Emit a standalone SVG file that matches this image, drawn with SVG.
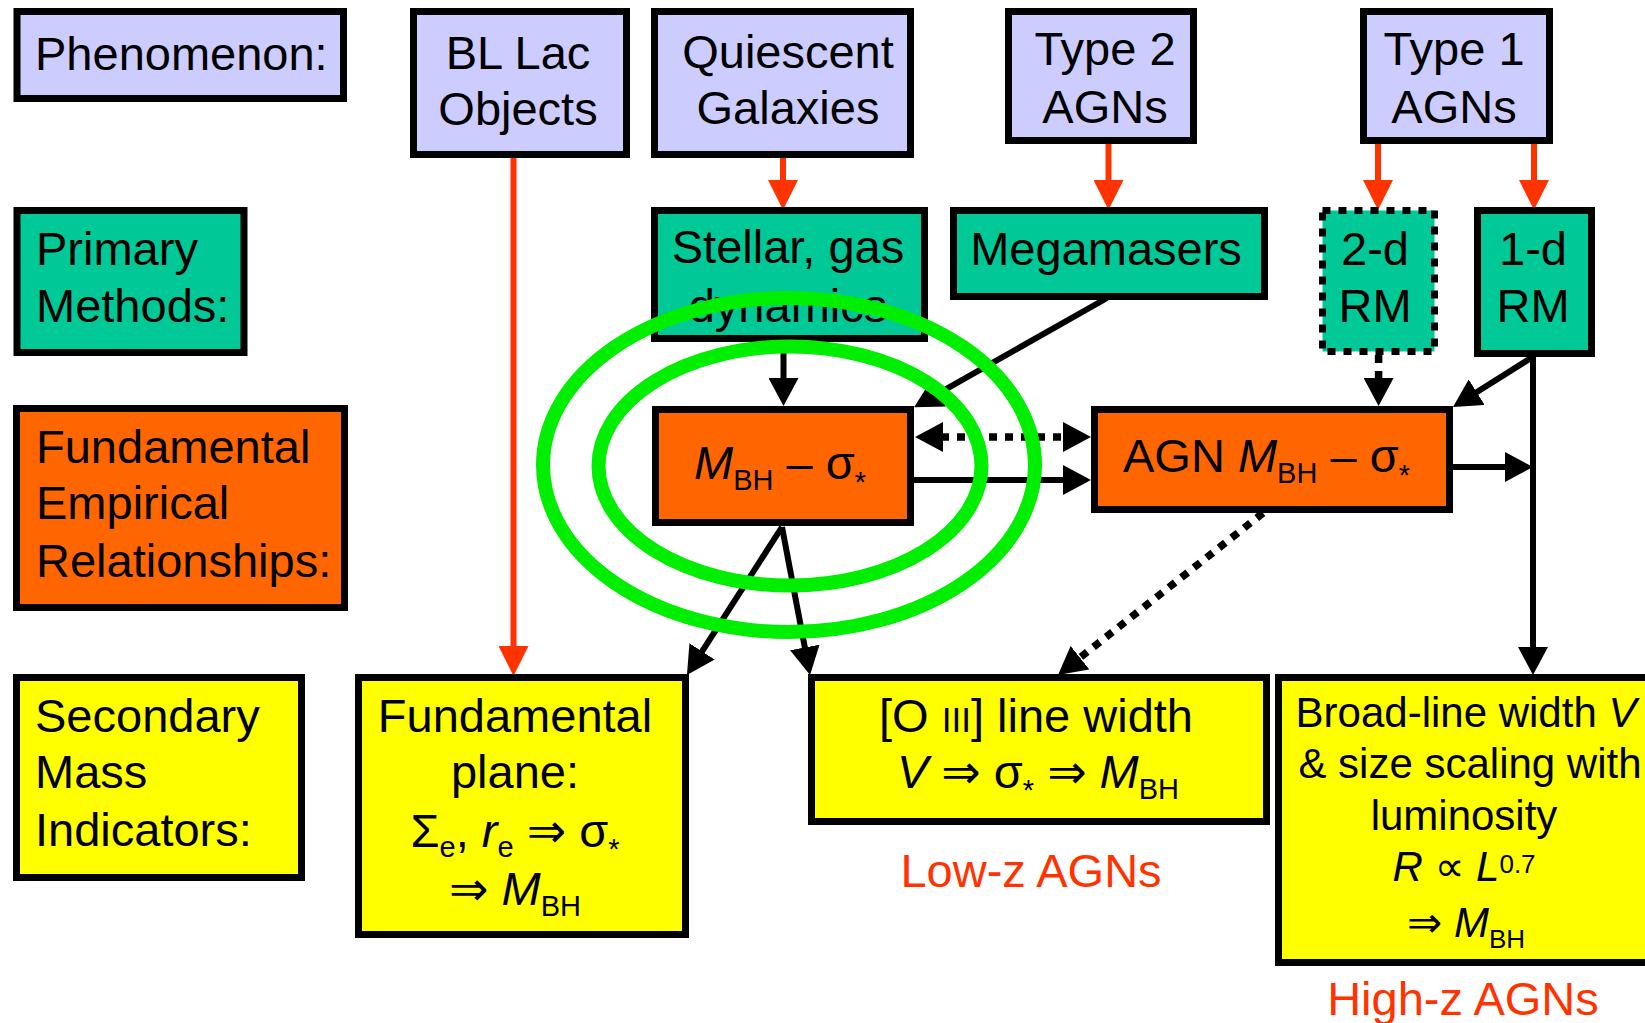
<svg xmlns="http://www.w3.org/2000/svg" width="1645" height="1023" viewBox="0 0 1645 1023">
<defs>
<style>
text{font-family:"Liberation Sans",Arial,"DejaVu Sans",sans-serif;font-size:47px;fill:#000}
.box{stroke:#000;stroke-width:7}
.ph{fill:#ccccff}.pm{fill:#00c896}.fe{fill:#ff6600}.sm{fill:#ffff00}
.dot{stroke-dasharray:8 8}
.m{text-anchor:middle}
.i{font-style:italic}
.sub{font-size:29px}
.bl{font-size:42px}
.bl .sub{font-size:26px}
.red{fill:#ff3300}
.ln{stroke:#000;stroke-width:6;fill:none;marker-end:url(#ba)}
.ln.dot{stroke-width:7.5}
.rl{stroke:#ff3300;stroke-width:6;fill:none;marker-end:url(#ra)}
.ell{fill:none;stroke:#00ee00;stroke-width:14}
</style>
<marker id="ra" markerUnits="userSpaceOnUse" markerWidth="30" markerHeight="30" refX="2" refY="15" orient="auto"><path d="M0,0 L30,15 L0,30 z" fill="#ff3300"/></marker>
<marker id="ba" markerUnits="userSpaceOnUse" markerWidth="28" markerHeight="30" refX="2" refY="15" orient="auto"><path d="M0,0 L28,15 L0,30 z" fill="#000"/></marker>
<marker id="bs" markerUnits="userSpaceOnUse" markerWidth="28" markerHeight="30" refX="2" refY="15" orient="auto-start-reverse"><path d="M0,0 L28,15 L0,30 z" fill="#000"/></marker>
</defs>
<rect width="1645" height="1023" fill="#fff"/>

<g id="connectors">
<line class="rl" x1="513.5" y1="155" x2="513.5" y2="648"/>
<line class="rl" x1="783" y1="156" x2="783" y2="182"/>
<line class="rl" x1="1108.5" y1="142" x2="1108.5" y2="182"/>
<line class="rl" x1="1378" y1="142" x2="1378" y2="182"/>
<line class="rl" x1="1534" y1="142" x2="1534" y2="182"/>
<line class="ln" x1="783.5" y1="342" x2="783.5" y2="380"/>
<line class="ln" x1="1107" y1="298" x2="936.7" y2="394.4"/>
<line class="ln dot" x1="1378.6" y1="355" x2="1378.6" y2="380"/>
<line class="ln" x1="1531" y1="358" x2="1475" y2="393.2"/>
<line class="ln dot" style="marker-start:url(#bs)" x1="941" y1="437" x2="1065" y2="437"/>
<line class="ln" x1="914" y1="480" x2="1065" y2="480"/>
<line class="ln" x1="1453" y1="467" x2="1507" y2="467"/>
<line class="ln" x1="1533" y1="357" x2="1533" y2="649"/>
<line class="ln" x1="782" y1="527" x2="701" y2="653.1"/>
<line class="ln" x1="782" y1="527" x2="805.2" y2="649.4"/>
<line class="ln dot" x1="1263" y1="513" x2="1078.4" y2="658.9"/>
</g>

<g id="phenomenon"><rect class="box ph" x="17" y="11.5" width="326.5" height="87"/><text x="35" y="70">Phenomenon:</text></g>
<g id="bllac"><rect class="box ph" x="413.5" y="11.5" width="213" height="143"/><text class="m" x="518" y="69">BL Lac</text><text class="m" x="518" y="125">Objects</text></g>
<g id="quiescent"><rect class="box ph" x="654.5" y="11.5" width="256" height="143"/><text class="m" x="788" y="68">Quiescent</text><text class="m" x="788" y="124">Galaxies</text></g>
<g id="type2"><rect class="box ph" x="1008.5" y="11.5" width="185" height="129"/><text class="m" x="1105" y="65">Type 2</text><text class="m" x="1105" y="123">AGNs</text></g>
<g id="type1"><rect class="box ph" x="1363.5" y="11.5" width="186" height="129"/><text class="m" x="1454" y="65">Type 1</text><text class="m" x="1454" y="123">AGNs</text></g>

<g id="primary"><rect class="box pm" x="17" y="210.5" width="227" height="142"/><text x="36" y="265">Primary</text><text x="36" y="322">Methods:</text></g>
<g id="stellar"><rect class="box pm" x="654.5" y="210.5" width="270" height="128"/><text class="m" x="788" y="263">Stellar, gas</text><text class="m" x="788" y="322">dynamics</text></g>
<g id="megamasers"><rect class="box pm" x="953.5" y="210.5" width="311" height="86"/><text class="m" x="1106" y="265">Megamasers</text></g>
<g id="rm2d"><rect class="box pm dot" x="1322.5" y="210.5" width="112" height="141"/><text class="m" x="1375" y="265">2-d</text><text class="m" x="1375" y="322">RM</text></g>
<g id="rm1d"><rect class="box pm" x="1477.5" y="210.5" width="114" height="143"/><text class="m" x="1533" y="265">1-d</text><text class="m" x="1533" y="322">RM</text></g>

<g id="fundemp"><rect class="box fe" x="16.5" y="408.5" width="328" height="199"/><text x="36" y="463">Fundamental</text><text x="36" y="519">Empirical</text><text x="36" y="577">Relationships:</text></g>
<g id="msigma"><rect class="box fe" x="655.5" y="409.5" width="255" height="113"/><text x="694" y="479"><tspan class="i">M</tspan><tspan class="sub" dy="11">BH</tspan><tspan dy="-11"> – σ</tspan><tspan class="sub" dy="13">*</tspan></text></g>
<g id="agnmsigma"><rect class="box fe" x="1094.5" y="409.5" width="355" height="100"/><text x="1123" y="472">AGN <tspan class="i">M</tspan><tspan class="sub" dy="11">BH</tspan><tspan dy="-11"> – σ</tspan><tspan class="sub" dy="13">*</tspan></text></g>

<g id="secondary"><rect class="box sm" x="16.5" y="677.5" width="285" height="200"/><text x="35" y="732">Secondary</text><text x="35" y="788">Mass</text><text x="35" y="846">Indicators:</text></g>
<g id="fundplane"><rect class="box sm" x="358.5" y="677.5" width="327" height="257"/>
<text class="m" x="515" y="732">Fundamental</text>
<text class="m" x="515" y="788">plane:</text>
<text class="m" x="515" y="847">Σ<tspan class="sub" dy="10">e</tspan><tspan dy="-10">, </tspan><tspan class="i">r</tspan><tspan class="sub" dy="10">e</tspan><tspan dy="-10"> ⇒ σ</tspan><tspan class="sub" dy="12">*</tspan></text>
<text class="m" x="515" y="905">⇒ <tspan class="i">M</tspan><tspan class="sub" dy="11">BH</tspan></text></g>
<g id="oiii"><rect class="box sm" x="811.5" y="677.5" width="455" height="144"/>
<text class="m" x="1036" y="732">[O <tspan font-size="35">III</tspan>] line width</text>
<text class="m" x="1038" y="788"><tspan class="i">V</tspan> ⇒ σ<tspan class="sub" dy="12">*</tspan><tspan dy="-12"> ⇒ </tspan><tspan class="i">M</tspan><tspan class="sub" dy="11">BH</tspan></text></g>
<g id="broadline"><rect class="box sm" x="1278.5" y="677.5" width="400" height="285"/>
<text class="m bl" x="1466" y="727">Broad-line width <tspan class="i">V</tspan></text>
<text class="m bl" x="1470" y="778">&amp; size scaling with</text>
<text class="m bl" x="1464" y="830">luminosity</text>
<text class="m bl" x="1464" y="881"><tspan class="i">R</tspan> ∝ <tspan class="i">L</tspan><tspan class="sub" dy="-8">0.7</tspan></text>
<text class="m bl" x="1466" y="937">⇒ <tspan class="i">M</tspan><tspan class="sub" dy="11">BH</tspan></text></g>

<g id="labels">
<text class="m red" x="1031" y="887">Low-z AGNs</text>
<text class="m red" x="1463" y="1015">High-z AGNs</text>
<text x="566" y="1058" font-size="53">from Peterson 2008</text>
</g>

<g id="highlight">
<ellipse class="ell" cx="789" cy="465" rx="246" ry="167"/>
<ellipse class="ell" cx="790" cy="466" rx="191.5" ry="119.5"/>
</g>
</svg>
